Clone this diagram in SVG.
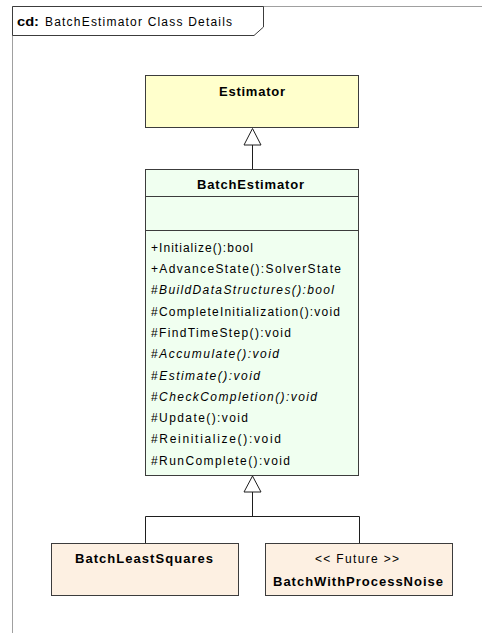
<svg xmlns="http://www.w3.org/2000/svg" width="482" height="633" viewBox="0 0 482 633">
<style>
  text { font-family: "Liberation Sans", Arial, sans-serif; fill: #000; }
  .op { font-size: 12px; }
  .it { font-style: italic; }
  .nm { font-size: 13px; font-weight: bold; text-anchor: middle; }
  .st { font-size: 12px; text-anchor: middle; }
  .box { stroke: #3c3c3c; stroke-width: 1; }
  .conn { stroke: #1e1e1e; stroke-width: 1; fill: none; }
  .tri { stroke: #1e1e1e; stroke-width: 1; fill: #fff; }
</style>
<rect width="482" height="633" fill="#fff"/>
<g id="frame">
  <line x1="12.5" y1="6.5" x2="12.5" y2="633" stroke="#a0a0a0" stroke-width="1"/>
  <line x1="12.5" y1="6.5" x2="482" y2="6.5" stroke="#a0a0a0" stroke-width="1"/>
  <polygon points="12.5,6.5 263.5,6.5 263.5,27 254,35.5 12.5,35.5" fill="#fff" stroke="#3c3c3c" stroke-width="1"/>
  <text x="17" y="26" style="font-size:12px;font-weight:bold" textLength="22" lengthAdjust="spacingAndGlyphs">cd:</text>
  <text x="45" y="26" style="font-size:12px" textLength="187" lengthAdjust="spacing">BatchEstimator Class Details</text>
</g>
<g id="connectors">
  <line class="conn" x1="252.5" y1="145" x2="252.5" y2="169.5"/>
  <polygon class="tri" points="252.5,128.5 244,145 261,145"/>
  <polyline class="conn" points="252.5,492 252.5,516.5"/>
  <polyline class="conn" points="145.5,543.5 145.5,516.5 359.5,516.5 359.5,543.5"/>
  <polygon class="tri" points="252.5,476 244,492 261,492"/>
</g>
<g id="Estimator">
  <rect class="box" x="145.5" y="75.5" width="213" height="52" fill="#ffffcc"/>
  <text class="nm" x="252" y="95.5" textLength="66" lengthAdjust="spacing">Estimator</text>
</g>
<g id="BatchEstimator">
  <rect class="box" x="145.5" y="169.5" width="213" height="306" fill="#f0fff0"/>
  <line class="box" x1="145.5" y1="196.5" x2="358.5" y2="196.5"/>
  <line class="box" x1="145.5" y1="230.5" x2="358.5" y2="230.5"/>
  <text class="nm" x="250.5" y="189.3" textLength="107" lengthAdjust="spacing">BatchEstimator</text>
  <text class="op" x="151" y="251.7" textLength="102" lengthAdjust="spacing">+Initialize():bool</text>
  <text class="op" x="151" y="273" textLength="190" lengthAdjust="spacing">+AdvanceState():SolverState</text>
  <text class="op" x="151" y="294.3" textLength="183" lengthAdjust="spacing">#<tspan class="it">BuildDataStructures():bool</tspan></text>
  <text class="op" x="151" y="315.6" textLength="189" lengthAdjust="spacing">#CompleteInitialization():void</text>
  <text class="op" x="151" y="336.9" textLength="140" lengthAdjust="spacing">#FindTimeStep():void</text>
  <text class="op" x="151" y="358.2" textLength="128" lengthAdjust="spacing">#<tspan class="it">Accumulate():void</tspan></text>
  <text class="op" x="151" y="379.5" textLength="109" lengthAdjust="spacing">#<tspan class="it">Estimate():void</tspan></text>
  <text class="op" x="151" y="400.8" textLength="166" lengthAdjust="spacing">#<tspan class="it">CheckCompletion():void</tspan></text>
  <text class="op" x="151" y="422.1" textLength="97" lengthAdjust="spacing">#Update():void</text>
  <text class="op" x="151" y="443.4" textLength="130" lengthAdjust="spacing">#Reinitialize():void</text>
  <text class="op" x="151" y="464.7" textLength="139" lengthAdjust="spacing">#RunComplete():void</text>
</g>
<g id="BatchLeastSquares">
  <rect class="box" x="51.5" y="543.5" width="187" height="52" fill="#fdf0e2"/>
  <text class="nm" x="144" y="562.7" textLength="138" lengthAdjust="spacing">BatchLeastSquares</text>
</g>
<g id="BatchWithProcessNoise">
  <rect class="box" x="265.5" y="543.5" width="187" height="52" fill="#fdf0e2"/>
  <text class="st" x="357" y="562.7" textLength="84" lengthAdjust="spacing">&lt;&lt; Future &gt;&gt;</text>
  <text class="nm" x="358" y="585.7" textLength="170" lengthAdjust="spacing">BatchWithProcessNoise</text>
</g>
</svg>
